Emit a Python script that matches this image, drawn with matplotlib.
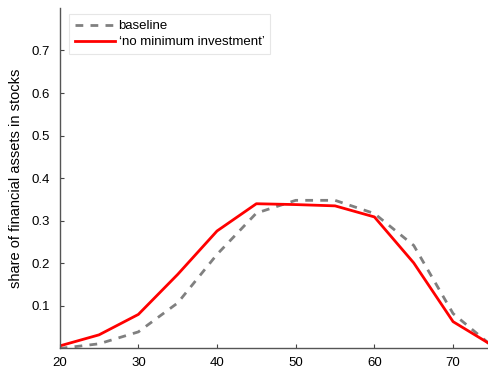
import matplotlib

matplotlib.use("Agg")

import matplotlib.pyplot as plt  # noqa: E402

# ── data ───────────────────────────────────────────────────────────────────────

age = [20, 25, 30, 35, 40, 45, 50, 55, 60, 65, 70, 75]
baseline = [0.0, 0.011, 0.039, 0.107, 0.221, 0.318, 0.348, 0.348, 0.317, 0.242, 0.082, 0.005]
no_min_inv = [0.006, 0.032, 0.080, 0.174, 0.276, 0.340, 0.338, 0.335, 0.309, 0.201, 0.063, 0.007]

x_ticks = [20, 30, 40, 50, 60, 70]
y_ticks = [0.1, 0.2, 0.3, 0.4, 0.5, 0.6, 0.7]

plt.rcParams["font.family"] = ["Liberation Sans", "DejaVu Sans"]

fig = plt.figure(figsize=(4.89, 3.69), dpi=100)
ax = fig.add_axes([0.122, 0.0556, 0.885, 0.923])

ax.plot(age, baseline, color="#808080", linestyle=(0, (2.8, 2.6)), linewidth=2.0, label="baseline")
ax.plot(age, no_min_inv, color="#ff0000", linewidth=2.0, label="\u2018no minimum investment\u2019")

ax.set_xlim(20, 75)
ax.set_ylim(0, 0.8)
ax.set_xticks(x_ticks)
ax.set_yticks(y_ticks)
ax.set_yticklabels([f"{v:.1f}" for v in y_ticks])
ax.set_ylabel("share of financial assets in stocks", fontsize=10.5, labelpad=6)
ax.tick_params(direction="in", length=3, labelsize=9.5, color="#444444")
ax.tick_params(axis="y", pad=7)
ax.tick_params(axis="x", pad=6)
ax.spines[["top", "right"]].set_visible(False)
for s in ["left", "bottom"]:
    ax.spines[s].set_color("#555555")
    ax.spines[s].set_linewidth(1.0)

leg = ax.legend(loc="upper left", fontsize=9.5, frameon=True, fancybox=False,
                handlelength=3.0, handletextpad=0.3, labelspacing=0.3,
                borderpad=0.45, borderaxespad=0.0, bbox_to_anchor=(0.0217, 0.982))
leg.get_frame().set_edgecolor("#e0e0e0")
leg.get_frame().set_linewidth(0.8)

fig.savefig("out.png", dpi=100)
